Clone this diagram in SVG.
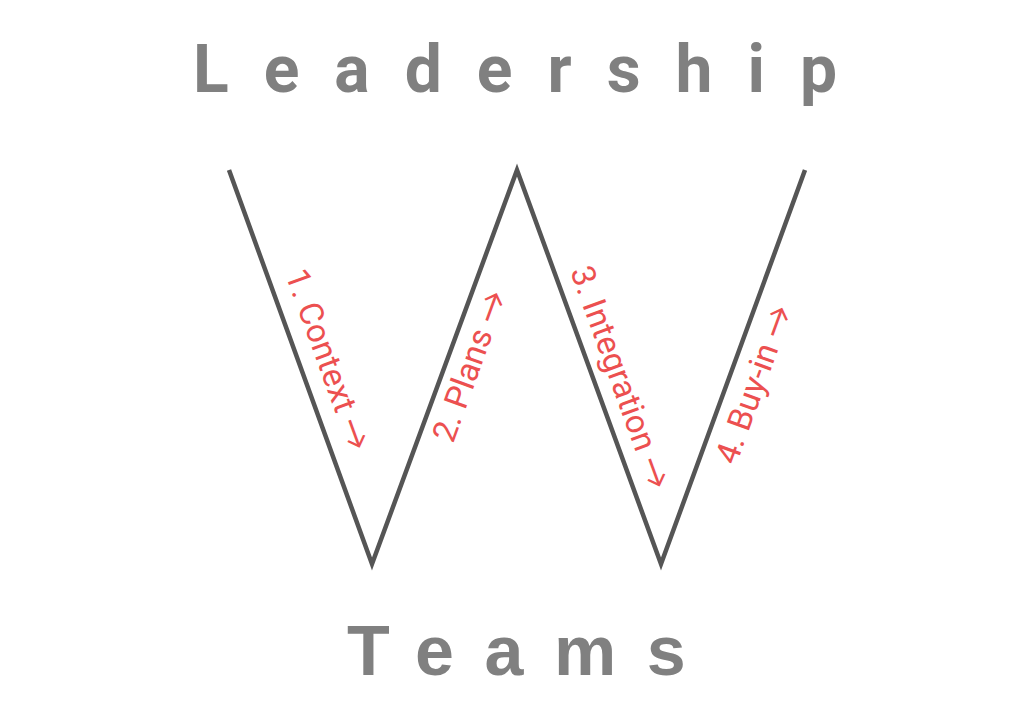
<svg xmlns="http://www.w3.org/2000/svg" width="1024" height="711" viewBox="0 0 1024 711">
<style>
.title{font-family:Roboto,"Liberation Sans",sans-serif;font-weight:bold;fill:#808080}
.teams{font-family:"Liberation Sans",Arial,sans-serif;font-weight:bold;fill:#808080}
.lbl{font-family:Roboto,"Liberation Sans",sans-serif;font-size:33px;fill:#ec5050}
.arr{font-family:Lato,Inter,sans-serif}
</style>
<rect width="1024" height="711" fill="#ffffff"/>
<g id="leadership"><text class="title" x="193" y="92" font-size="66" letter-spacing="35">Leadership</text></g>
<g id="teams"><text class="teams" x="347" y="675" font-size="70" letter-spacing="30.5">Teams</text></g>
<g id="connectors">
<polyline points="229,170 372,564 517,170 661,564 805,170" fill="none" stroke="#555555" stroke-width="4.5" stroke-linejoin="miter" stroke-miterlimit="20"/>
</g>
<g id="label1"><text class="lbl" transform="translate(285,274) rotate(70)">1. Context <tspan class="arr">→</tspan></text></g>
<g id="label2"><text class="lbl" transform="translate(453,444) rotate(-70)">2. Plans <tspan class="arr">→</tspan></text></g>
<g id="label3"><text class="lbl" transform="translate(570,271) rotate(70)">3. Integration <tspan class="arr">→</tspan></text></g>
<g id="label4"><text class="lbl" transform="translate(736,466) rotate(-70)">4. Buy-in <tspan class="arr">→</tspan></text></g>
</svg>
